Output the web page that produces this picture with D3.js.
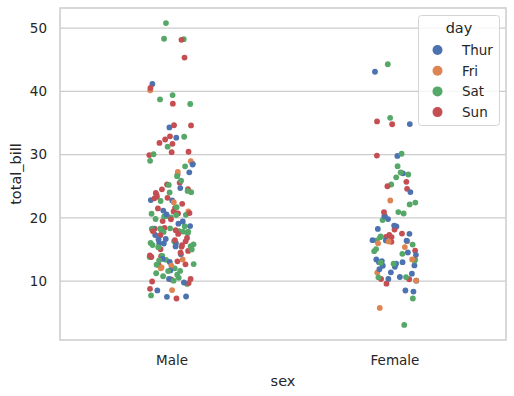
<!DOCTYPE html>
<html>
  <head>
    <meta charset="UTF-8" />
    <script src="https://d3js.org/d3.v7.min.js"></script>
    <style>
      body { margin: 0; background: #fff; }
      text { font-family: "DejaVu Sans", sans-serif; fill: #262626; }
    </style>
  </head>
  <body>
    <div id="chart"></div>

    <script>
      // tips dataset, in row order
      const totalBill = [
        16.99, 10.34, 21.01, 23.68, 24.59, 25.29, 8.77, 26.88, 15.04, 14.78, 10.27, 35.26, 15.42, 18.43, 14.83, 21.58, 10.33, 16.29, 16.97,
        20.65, 17.92, 20.29, 15.77, 39.42, 19.82, 17.81, 13.37, 12.69, 21.7, 19.65, 9.55, 18.35, 15.06, 20.69, 17.78, 24.06, 16.31, 16.93, 18.69, 31.27, 16.04,
        17.46, 13.94, 9.68, 30.4, 18.29, 22.23, 32.4, 28.55, 18.04, 12.54, 10.29, 34.81, 9.94, 25.56, 19.49,
        38.01, 26.41, 11.24, 48.27, 20.29, 13.81, 11.02, 18.29, 17.59, 20.08, 16.45, 3.07, 20.23, 15.01, 12.02, 17.07, 26.86, 25.28, 14.73, 10.51, 17.92,
        27.2, 22.76, 17.29, 19.44, 16.66, 10.07, 32.68, 15.98, 34.83, 13.03, 18.28, 24.71, 21.16,
        28.97, 22.49, 5.75, 16.32, 22.75, 40.17, 27.28, 12.03, 21.01, 12.46, 11.35, 15.38,
        44.3, 22.42, 20.92, 15.36, 20.49, 25.21, 18.24, 14.31, 14.0, 7.25,
        38.07, 23.95, 25.71, 17.31, 29.93,
        10.65, 12.43, 24.08, 11.69, 13.42, 14.26, 15.95, 12.48, 29.8, 8.52, 14.52, 11.38, 22.82, 19.08, 20.27, 11.17, 12.26, 18.26, 8.51, 10.33, 14.15, 16.0, 13.16, 17.47, 34.3, 41.19, 27.05, 16.43, 8.35, 18.64, 11.87, 9.78, 7.51,
        14.07, 13.13, 17.26, 24.55, 19.77, 29.85, 48.17, 25.0, 13.39, 16.49, 21.5, 12.66, 16.21, 13.81, 17.51, 24.52, 20.76, 31.71,
        10.59, 10.63, 50.81, 15.81,
        7.25, 31.85, 16.82, 32.9, 17.89, 14.48, 9.6, 34.63, 34.65, 23.33, 45.35, 23.17, 40.55, 20.69, 20.9, 30.46, 18.15, 23.1, 15.69,
        19.81, 28.44, 15.48, 16.58, 7.56, 10.34, 43.11, 13.0, 13.51, 18.71, 12.74, 13.0, 16.4, 20.53, 16.47,
        26.59, 38.73, 24.27, 12.76, 30.06, 25.89, 48.33, 13.27, 28.17, 12.9, 28.15, 11.59, 7.74, 30.14,
        12.16, 13.42, 8.58, 15.98, 13.42, 16.27, 10.09,
        20.45, 13.28, 22.12, 24.01, 15.69, 11.61, 10.77, 15.53, 10.07, 12.6, 32.83, 35.83, 29.03, 27.18, 22.67, 17.82,
        18.78
      ];

      // M = Male, F = Female, one letter per row
      const sexCodes =
        "FMMMFMMMMMMFMMFMFMF" +
        "MMFFMMMMMMFMMFFMMMFMMM" +
        "MMMMMMMMMMFFMMM" +
        "MFMMMMMMMMFFMMMFFFFMM" +
        "MMMMMFMMFMMMM" +
        "MMFFFMMMMMFF" +
        "FFFMMMMFMF" +
        "MMFFM" +
        "FFFMFMMFFMFFMMFFFFFFFMFFMMFFFFFMM" +
        "MMMMMFMFFMMMFMFMMM" +
        "FFMM" +
        "MMMMMMFMMMMMMMFMFMM" +
        "FMMMMMFFMMFFFMF" +
        "MMMFMMMFFFMMMF" +
        "MFMFMFF" +
        "MMFMMMMMMMMFMFMM" +
        "F";

      // day of each row, as consecutive runs [day, count]
      const dayRuns = [
        ["Sun", 19], ["Sat", 22], ["Sun", 15], ["Sat", 21], ["Thur", 13], ["Fri", 12],
        ["Sat", 10], ["Sun", 5], ["Thur", 33], ["Sun", 18], ["Sat", 4], ["Sun", 19],
        ["Thur", 15], ["Sat", 14], ["Fri", 7], ["Sat", 16], ["Thur", 1]
      ];

      const sexLevels = ["Male", "Female"];
      const dayLevels = ["Thur", "Fri", "Sat", "Sun"];
      const dayColors = ["#4c72b0", "#dd8452", "#55a868", "#c44e52"];
      const yTicks = [10, 20, 30, 40, 50];

      var days = [];
      dayRuns.forEach(function (r) {
        for (var k = 0; k < r[1]; k++) days.push(r[0]);
      });

      var data = totalBill.map(function (v, i) {
        return {
          total_bill: v,
          sex: sexCodes[i] === "M" ? "Male" : "Female",
          day: days[i],
          // deterministic jitter in [-0.1, 0.1] of a category width
          jitter: (((i * 0.6180339887 + 0.31) % 1) - 0.5) * 0.2
        };
      });

      var width = 514,
        height = 396;
      var margin = { top: 8, right: 8, bottom: 56, left: 60 };
      var x0 = margin.left,
        x1 = width - margin.right,
        y0 = margin.top,
        y1 = height - margin.bottom;

      var svg = d3
        .select("#chart")
        .append("svg")
        .attr("width", width)
        .attr("height", height);

      // categorical x on a linear scale, like matplotlib (-0.5 .. 1.5)
      var x = d3.scaleLinear().domain([-0.5, sexLevels.length - 0.5]).range([x0, x1]);
      var ext = d3.extent(totalBill);
      var pad = (ext[1] - ext[0]) * 0.05;
      var y = d3.scaleLinear().domain([ext[0] - pad, ext[1] + pad]).range([y1, y0]);
      var color = d3.scaleOrdinal().domain(dayLevels).range(dayColors);

      // grid
      svg
        .append("g")
        .selectAll("line")
        .data(yTicks)
        .enter()
        .append("line")
        .attr("x1", x0)
        .attr("x2", x1)
        .attr("y1", function (d) { return y(d); })
        .attr("y2", function (d) { return y(d); })
        .attr("stroke", "#cccccc")
        .attr("stroke-width", 1.2);

      // points
      svg
        .append("g")
        .selectAll("circle")
        .data(data)
        .enter()
        .append("circle")
        .attr("cx", function (d) { return x(sexLevels.indexOf(d.sex) + d.jitter); })
        .attr("cy", function (d) { return y(d.total_bill); })
        .attr("r", 2.9)
        .attr("fill", function (d) { return color(d.day); });

      // frame
      svg
        .append("rect")
        .attr("x", x0)
        .attr("y", y0)
        .attr("width", x1 - x0)
        .attr("height", y1 - y0)
        .attr("fill", "none")
        .attr("stroke", "#cccccc")
        .attr("stroke-width", 1.5);

      // axes
      var yAxis = svg
        .append("g")
        .attr("transform", "translate(" + x0 + ",0)")
        .call(d3.axisLeft(y).tickValues(yTicks).tickSize(0).tickPadding(13));
      yAxis.select(".domain").remove();
      yAxis.selectAll("text").style("font-size", "13.5px");

      var xAxis = svg
        .append("g")
        .attr("transform", "translate(0," + y1 + ")")
        .call(
          d3.axisBottom(x)
            .tickValues(sexLevels.map(function (d, i) { return i; }))
            .tickFormat(function (i) { return sexLevels[i]; })
            .tickSize(0)
            .tickPadding(15)
        );
      xAxis.select(".domain").remove();
      xAxis.selectAll("text").style("font-size", "13.5px");

      svg
        .append("text")
        .attr("x", (x0 + x1) / 2)
        .attr("y", 386)
        .attr("text-anchor", "middle")
        .style("font-size", "14.5px")
        .text("sex");

      svg
        .append("text")
        .attr("transform", "translate(21," + (y0 + y1) / 2 + ") rotate(-90)")
        .attr("text-anchor", "middle")
        .style("font-size", "14.5px")
        .text("total_bill");

      // legend
      var legend = svg.append("g").attr("transform", "translate(418,15)");
      legend
        .append("rect")
        .attr("x", 0.5)
        .attr("y", 0.5)
        .attr("width", 81)
        .attr("height", 110)
        .attr("rx", 3)
        .attr("fill", "#ffffff")
        .attr("fill-opacity", 0.8)
        .attr("stroke", "#d5d5d5")
        .attr("stroke-width", 1);
      legend
        .append("text")
        .attr("x", 41)
        .attr("y", 18)
        .attr("text-anchor", "middle")
        .style("font-size", "14.5px")
        .text("day");
      var item = legend
        .selectAll("g.item")
        .data(dayLevels)
        .enter()
        .append("g")
        .attr("class", "item")
        .attr("transform", function (d, i) { return "translate(0," + (35 + i * 20.7) + ")"; });
      item
        .append("circle")
        .attr("cx", 19.5)
        .attr("cy", 0)
        .attr("r", 5)
        .attr("fill", function (d) { return color(d); });
      item
        .append("text")
        .attr("x", 44)
        .attr("y", 4.8)
        .style("font-size", "13.5px")
        .text(function (d) { return d; });
    </script>
  </body>
</html>
